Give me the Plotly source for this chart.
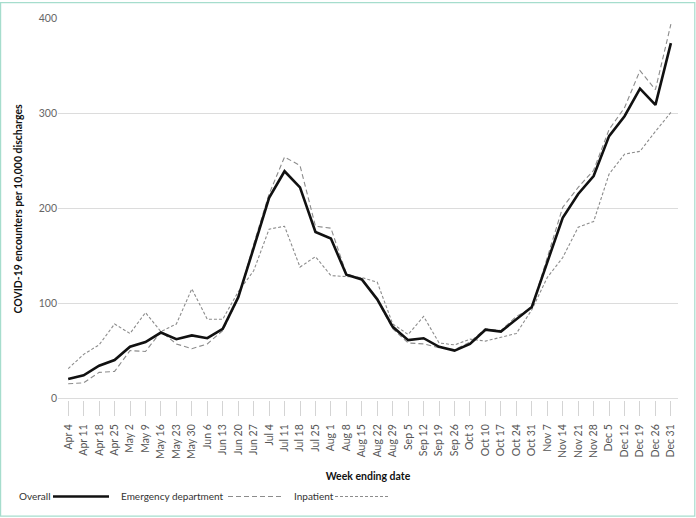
import plotly.graph_objects as go

weeks = ["Apr 4", "Apr 11", "Apr 18", "Apr 25", "May 2", "May 9", "May 16", "May 23", "May 30",
         "Jun 6", "Jun 13", "Jun 20", "Jun 27", "Jul 4", "Jul 11", "Jul 18", "Jul 25",
         "Aug 1", "Aug 8", "Aug 15", "Aug 22", "Aug 29", "Sep 5", "Sep 12", "Sep 19", "Sep 26",
         "Oct 3", "Oct 10", "Oct 17", "Oct 24", "Oct 31", "Nov 7", "Nov 14", "Nov 21", "Nov 28",
         "Dec 5", "Dec 12", "Dec 19", "Dec 26", "Dec 31"]

overall = [20, 24, 34, 40, 54, 59, 69, 62, 66, 63, 73, 106, 158, 211, 239, 222, 175, 168, 130, 125,
           104, 75, 61, 63, 54, 50, 57, 72, 70, 83, 96, 143, 190, 215, 234, 276, 297, 326, 309, 374]

emergency = [15, 16, 27, 28, 50, 49, 70, 57, 52, 57, 71, 105, 162, 215, 254, 245, 181, 179, 131, 126,
             103, 73, 58, 57, 53, 51, 59, 73, 71, 86, 95, 148, 201, 222, 240, 283, 306, 345, 325, 394]

inpatient = [31, 46, 56, 78, 68, 90, 70, 78, 115, 83, 83, 112, 134, 178, 181, 138, 149, 129, 128, 127,
             122, 78, 67, 86, 58, 56, 62, 60, 64, 68, 93, 127, 148, 180, 186, 236, 257, 260, 281, 301]

y_ticks = [0, 100, 200, 300, 400]

W, H = 696, 518
ML, MR, MT, MB = 58, 18, 16, 118
PW, PH = W - ML - MR, H - MT - MB

def px(x):
    return (x - ML) / PW

def py(y):
    return (H - MB - y) / PH

FONT = "Lato, 'Open Sans', sans-serif"
GRAY = "#8c8c8c"
FS = 10.5

fig = go.Figure()
fig.add_trace(go.Scatter(x=weeks, y=inpatient, mode="lines", name="Inpatient",
                         line=dict(color=GRAY, width=1.1, dash="3px,2px")))
fig.add_trace(go.Scatter(x=weeks, y=emergency, mode="lines", name="Emergency department",
                         line=dict(color=GRAY, width=1.1, dash="5px,3px")))
fig.add_trace(go.Scatter(x=weeks, y=overall, mode="lines", name="Overall",
                         line=dict(color="#111111", width=2.6)))

shapes = []
annotations = []
# legend (text followed by sample line)
leg_y = py(497)
items = [("Overall", 17, 53, 109, dict(color="#111111", width=2.6)),
         ("Emergency department", 119, 228, 281, dict(color=GRAY, width=1.1, dash="5px,3px")),
         ("Inpatient", 292, 335, 388, dict(color=GRAY, width=1.1, dash="3px,2px"))]
for label, tx, lx0, lx1, ln in items:
    annotations.append(dict(text=label, x=px(tx), y=leg_y, xref="paper", yref="paper",
                            xanchor="left", yanchor="middle", showarrow=False,
                            font=dict(family=FONT, size=10, color="#333333")))
    shapes.append(dict(type="line", xref="paper", yref="paper", x0=px(lx0), x1=px(lx1),
                       y0=leg_y, y1=leg_y, line=ln))
# frame
shapes.append(dict(type="rect", xref="paper", yref="paper", x0=px(0.6), x1=px(W - 1.2),
                   y0=py(H - 1.2), y1=py(0.6), line=dict(color="#a6ddcd", width=1.2)))

fig.update_layout(
    width=W, height=H,
    margin=dict(l=ML, r=MR, t=MT, b=MB),
    paper_bgcolor="white", plot_bgcolor="white",
    showlegend=False,
    font=dict(family=FONT, size=FS, color="#555555"),
    shapes=shapes, annotations=annotations,
    xaxis=dict(
        type="category", range=[-0.66, 39.46],
        showgrid=False, showline=False, zeroline=False,
        ticks="outside", ticklen=15, tickcolor="#d4d4d4", tickwidth=1,
        ticklabelstandoff=4,
        tickangle=-90, tickfont=dict(family=FONT, size=FS, color="#555555"),
        title=dict(text="<b>Week ending date</b>", font=dict(family=FONT, size=FS, color="#111111"),
                   standoff=14),
    ),
    yaxis=dict(
        range=[-2.1, 400.5], tickvals=y_ticks,
        showgrid=True, gridcolor="#dcdcdc", gridwidth=1,
        zeroline=False, showline=False, ticks="",
        tickfont=dict(family=FONT, size=FS, color="#666666"),
        title=dict(text="<b>COVID-19 encounters per 10,000 discharges</b>",
                   font=dict(family=FONT, size=FS, color="#111111"), standoff=14),
    ),
)

fig.write_html("out.html", config={"displayModeBar": False},
               post_script="document.body.style.margin='0';document.body.style.overflow='hidden';")
